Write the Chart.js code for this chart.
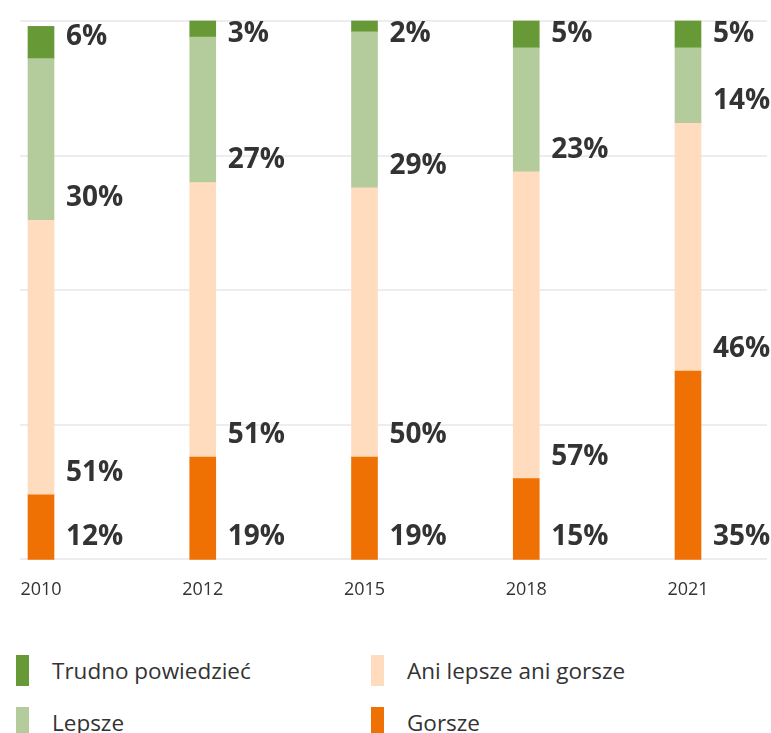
<!DOCTYPE html>
<html lang="pl">
<head>
<meta charset="utf-8">
<title>Ocena zmian 2010–2021</title>
<script src="https://cdn.jsdelivr.net/npm/chart.js@4/dist/chart.umd.min.js"></script>
<style>
  html, body { margin: 0; padding: 0; background: #ffffff; }
  body { width: 771px; height: 733px; position: relative; overflow: hidden; font-family: "Open Sans", "Noto Sans", sans-serif; }
  #wrap { position: absolute; left: 0; top: 0; width: 771px; height: 621px; }
  .legend-item { position: absolute; display: flex; align-items: center; height: 31px; }
  .legend-swatch { width: 13px; height: 31px; margin-right: 23px; flex: none; }
  .legend-text { font-size: 22.5px; color: #333333; white-space: nowrap; }
</style>
</head>
<body>
<div id="wrap"><canvas id="chart" width="771" height="621"></canvas></div>
<div id="legend"></div>
<script>
// Survey years
const years = ['2010', '2012', '2015', '2018', '2021'];

// Share of answers per year (%)
const gorsze = [12, 19, 19, 15, 35];
const aniLepszeAniGorsze = [51, 51, 50, 57, 46];
const lepsze = [30, 27, 29, 23, 14];
const trudnoPowiedziec = [6, 3, 2, 5, 5];

const seriesNames = ['Gorsze', 'Ani lepsze ani gorsze', 'Lepsze', 'Trudno powiedzieć'];
const seriesColors = ['#ef7103', '#ffdcbe', '#b4cc9c', '#679a37'];

const TEXT = '#333333';
const FONT = '"Open Sans", "Noto Sans", sans-serif';

// Horizontal guide lines across the full plot width
const guideLines = {
  id: 'guideLines',
  beforeDatasetsDraw(chart) {
    const { ctx } = chart;
    const y = chart.scales.y;
    ctx.save();
    ctx.strokeStyle = '#ececf1';
    ctx.lineWidth = 2;
    y.ticks.forEach(t => {
      const py = Math.round(y.getPixelForValue(t.value));
      ctx.beginPath();
      ctx.moveTo(20, py);
      ctx.lineTo(767, py);
      ctx.stroke();
    });
    ctx.restore();
  }
};

// Percentage labels to the right of each bar segment
const segmentLabels = {
  id: 'segmentLabels',
  afterDatasetsDraw(chart) {
    const { ctx, chartArea } = chart;
    ctx.save();
    ctx.font = 'bold 28px ' + FONT;
    ctx.fillStyle = TEXT;
    ctx.textAlign = 'left';
    ctx.textBaseline = 'middle';
    chart.data.datasets.forEach((ds, di) => {
      const meta = chart.getDatasetMeta(di);
      meta.data.forEach((bar, i) => {
        const v = ds.data[i];
        const x = bar.x + bar.width / 2 + 12;
        const y = Math.max(bar.base - 22, chartArea.top + 13);
        ctx.fillText(v + '%', x, y);
      });
    });
    ctx.restore();
  }
};

const seriesData = [gorsze, aniLepszeAniGorsze, lepsze, trudnoPowiedziec];

new Chart(document.getElementById('chart'), {
  type: 'bar',
  data: {
    labels: years,
    datasets: seriesData.map((d, i) => ({
      label: seriesNames[i],
      data: d,
      backgroundColor: seriesColors[i],
      borderWidth: 0,
      barThickness: 26,
      clip: false
    }))
  },
  options: {
    responsive: false,
    animation: false,
    layout: { padding: { left: 41, right: 83, top: 21, bottom: 0 } },
    plugins: {
      legend: { display: false },
      tooltip: { enabled: false }
    },
    scales: {
      x: {
        stacked: true,
        offset: false,
        grid: { display: false, drawTicks: false },
        border: { display: false },
        ticks: {
          color: TEXT,
          font: { family: FONT, size: 18 },
          padding: 20,
          maxRotation: 0,
          autoSkip: false
        }
      },
      y: {
        stacked: true,
        display: false,
        min: 0,
        max: 100,
        ticks: { stepSize: 25 }
      }
    }
  },
  plugins: [guideLines, segmentLabels]
});

// Two-column legend, filled column by column from the top series down
const legend = document.getElementById('legend');
const legendOrder = [3, 2, 1, 0];
const colX = [16, 371];
const rowY = [655, 707];
legendOrder.forEach((si, k) => {
  const col = Math.floor(k / 2);
  const row = k % 2;
  const item = document.createElement('div');
  item.className = 'legend-item';
  item.style.left = colX[col] + 'px';
  item.style.top = rowY[row] + 'px';
  const sw = document.createElement('span');
  sw.className = 'legend-swatch';
  sw.style.background = seriesColors[si];
  const tx = document.createElement('span');
  tx.className = 'legend-text';
  tx.textContent = seriesNames[si];
  item.appendChild(sw);
  item.appendChild(tx);
  legend.appendChild(item);
});
</script>
</body>
</html>
